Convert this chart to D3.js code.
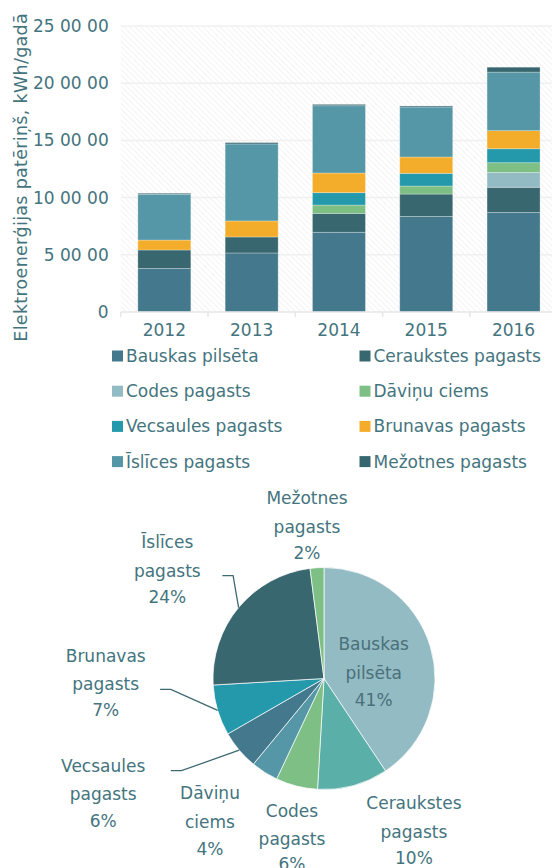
<!DOCTYPE html>
<html>
<head>
<meta charset="utf-8">
<script src="https://cdn.jsdelivr.net/npm/d3@7"></script>
<style>
  body { margin: 0; background: #fff; }
  svg { display: block; font-family: "DejaVu Sans", sans-serif; }
</style>
</head>
<body>
<div id="chart"></div>
<script>
// data, kWh per year
const years = ["2012", "2013", "2014", "2015", "2016"];
const seriesNames = ["Bauskas pilsēta", "Ceraukstes pagasts", "Codes pagasts", "Dāviņu ciems",
                     "Vecsaules pagasts", "Brunavas pagasts", "Īslīces pagasts", "Mežotnes pagasts"];
const bauskas    = [380000, 516000, 697000, 836000, 870000];
const ceraukstes = [162000, 140000, 165000, 195000, 220000];
const codes      = [0, 0, 0, 0, 130000];
const davinu     = [0, 0, 73000, 70000, 85000];
const vecsaules  = [0, 0, 108000, 111000, 122000];
const brunavas   = [87000, 140000, 172000, 143000, 158000];
const islices    = [400000, 673000, 588000, 437000, 512000];
const mezotnes   = [9000, 12000, 12000, 9000, 43000];
const tickValues = [0, 500000, 1000000, 1500000, 2000000, 2500000];
const tickLabels = ["0", "5 00 00", "10 00 00", "15 00 00", "20 00 00", "25 00 00"];
const yTitle = "Elektroenerģijas patēriņš, kWh/gadā";
// pie labels (split in lines as in the original)
const pieLabels = [["Bauskas", "pilsēta"], ["Ceraukstes", "pagasts"], ["Codes", "pagasts"], ["Dāviņu", "ciems"],
                   ["Vecsaules", "pagasts"], ["Brunavas", "pagasts"], ["Īslīces", "pagasts"], ["Mežotnes", "pagasts"]];

const allSeries = [bauskas, ceraukstes, codes, davinu, vecsaules, brunavas, islices, mezotnes];

const barColors = ["#44798d", "#38676f", "#93bbc4", "#7dbf85", "#2399ab", "#f4ad2b", "#5597a7", "#38666f"];
const pieColors = ["#93bbc4", "#5aafa8", "#7dbf85", "#5597a7", "#44798d", "#2399ab", "#38676f", "#7dbf85"];
const textColor = "#44747e";

const width = 552, height = 868;

const svg = d3.select("#chart").append("svg")
    .attr("width", width)
    .attr("height", height);

// hatch background of the plot area
const defs = svg.append("defs");
defs.append("pattern")
    .attr("id", "hatch")
    .attr("width", 4).attr("height", 4)
    .attr("patternUnits", "userSpaceOnUse")
    .attr("patternTransform", "rotate(-45)")
    .append("line")
    .attr("x1", 0).attr("y1", 0).attr("x2", 0).attr("y2", 4)
    .attr("stroke", "#efefef").attr("stroke-width", 1.5);
defs.append("clipPath").attr("id", "titleClip")
    .append("rect").attr("x", 0).attr("y", 0).attr("width", 60).attr("height", 341);

// ---------- bar chart ----------
const plotLeft = 120.7, plotRight = 557.2, plotTop = 26, plotBottom = 312;

const x = d3.scaleBand()
    .domain(years)
    .range([plotLeft, plotRight])
    .paddingInner(0.393)
    .paddingOuter(0.1965);

const y = d3.scaleLinear()
    .domain([0, 2500000])
    .range([plotBottom, plotTop]);

svg.append("rect")
    .attr("x", plotLeft).attr("y", plotTop)
    .attr("width", plotRight - plotLeft).attr("height", plotBottom - plotTop)
    .attr("fill", "url(#hatch)");

// grid
svg.append("g").selectAll("line")
    .data(tickValues.slice(1))
    .join("line")
    .attr("x1", plotLeft).attr("x2", plotRight)
    .attr("y1", d => y(d)).attr("y2", d => y(d))
    .attr("stroke", "#f0f0f0").attr("stroke-width", 1.5);

// y axis labels
const yAxis = svg.append("g")
    .attr("transform", `translate(${plotLeft},0)`)
    .call(d3.axisLeft(y).tickValues(tickValues)
        .tickFormat((d, i) => tickLabels[i]).tickSize(0).tickPadding(12));
yAxis.select(".domain").remove();
yAxis.selectAll("text")
    .attr("fill", textColor)
    .style("font-size", "17px")
    .style("font-family", "'DejaVu Sans', sans-serif");

// y title (runs past the chart bottom and is cut there, as in the original)
svg.append("g").attr("clip-path", "url(#titleClip)")
    .append("text")
    .attr("transform", "translate(27,13) rotate(-90)")
    .attr("text-anchor", "end")
    .attr("fill", textColor)
    .style("font-size", "17.5px")
    .style("letter-spacing", "0.3px")
    .text(yTitle);

// table for stack
const table = years.map((yr, i) => {
    const row = { year: yr };
    seriesNames.forEach((s, k) => { row[s] = allSeries[k][i]; });
    return row;
});
const stacked = d3.stack().keys(seriesNames)(table);

svg.append("g").selectAll("g")
    .data(stacked)
    .join("g")
    .attr("fill", (d, i) => barColors[i])
    .selectAll("rect")
    .data(d => d.filter(p => p[1] - p[0] > 0))
    .join("rect")
    .attr("x", d => x(d.data.year))
    .attr("width", x.bandwidth())
    .attr("y", d => y(d[1]))
    .attr("height", d => y(d[0]) - y(d[1]))
    .attr("stroke", "#ffffff")
    .attr("stroke-opacity", 0.35)
    .attr("stroke-width", 0.8);

// x axis
svg.append("line")
    .attr("x1", plotLeft).attr("x2", plotRight)
    .attr("y1", plotBottom).attr("y2", plotBottom)
    .attr("stroke", "#e6e6e6").attr("stroke-width", 1.5);
svg.append("g").selectAll("line")
    .data(d3.range(years.length + 1))
    .join("line")
    .attr("x1", i => plotLeft + i * x.step()).attr("x2", i => plotLeft + i * x.step())
    .attr("y1", plotBottom).attr("y2", plotBottom + 5)
    .attr("stroke", "#e6e6e6").attr("stroke-width", 1.5);
svg.append("g").selectAll("text")
    .data(years)
    .join("text")
    .attr("x", d => x(d) + x.bandwidth() / 2)
    .attr("y", 336)
    .attr("text-anchor", "middle")
    .attr("fill", textColor)
    .style("font-size", "17px")
    .text(d => d);

// legend
const legend = svg.append("g").selectAll("g")
    .data(seriesNames)
    .join("g")
    .attr("transform", (d, i) => `translate(${i % 2 === 0 ? 112 : 359.5},${356 + Math.floor(i / 2) * 35.2})`);
legend.append("rect")
    .attr("x", 0).attr("y", -5.5)
    .attr("width", 11).attr("height", 11)
    .attr("fill", (d, i) => barColors[i]);
legend.append("text")
    .attr("x", 14).attr("y", 6)
    .attr("fill", textColor)
    .style("font-size", "17px")
    .text(d => d);

// ---------- pie (2016) ----------
const cx = 324, cy = 678.5, r = 111;
const last = years.length - 1;
const pieData = seriesNames.map((s, k) => ({ name: s, value: allSeries[k][last], idx: k }));
const total = d3.sum(pieData, d => d.value);

const pie = d3.pie().sort(null).value(d => d.value);
const arcs = pie(pieData);
const arc = d3.arc().innerRadius(0).outerRadius(r);
const rimArc = d3.arc().innerRadius(r).outerRadius(r);

const pg = svg.append("g").attr("transform", `translate(${cx},${cy})`);
pg.selectAll("path")
    .data(arcs)
    .join("path")
    .attr("d", arc)
    .attr("fill", d => pieColors[d.data.idx])
    .attr("stroke", "#ffffff")
    .attr("stroke-width", 0.7);

// label placement (line centres) and leader starts
const labelPos = [
    { x: 373.7, y: [644.3, 672.7, 700] },
    { x: 413.9, y: [803.3, 831.7, 858.3] },
    { x: 292,   y: [811, 839.3, 863.5] },
    { x: 210,   y: [793.3, 822.3, 849] },
    { x: 103.2, y: [765.7, 794, 820.7], lead: [170.8, 770.7] },
    { x: 105.7, y: [655.7, 684.3, 710], lead: [160.1, 689.3] },
    { x: 167.3, y: [542.3, 570.7, 597.3], lead: [222.4, 575.7] },
    { x: 307,   y: [498, 526.7, 553] }
];

const lg = svg.append("g");
arcs.forEach((a, i) => {
    const pos = labelPos[i];
    const pct = Math.round(a.data.value / total * 100) + "%";
    const lines = pieLabels[i].concat([pct]);
    lg.append("text")
        .attr("text-anchor", "middle")
        .attr("fill", i === 0 ? "#4a7079" : textColor)
        .style("font-size", "17px")
        .selectAll("tspan")
        .data(lines)
        .join("tspan")
        .attr("x", pos.x)
        .attr("y", (d, j) => pos.y[j] + 6)
        .text(d => d);
    if (pos.lead) {
        const c = rimArc.centroid(a);
        lg.append("polyline")
            .attr("points", [[pos.lead[0], pos.lead[1]], [pos.lead[0] + 10.7, pos.lead[1]], [cx + c[0], cy + c[1]]].join(" "))
            .attr("fill", "none")
            .attr("stroke", "#3d6a72")
            .attr("stroke-width", 1.3);
    }
});
</script>
</body>
</html>
